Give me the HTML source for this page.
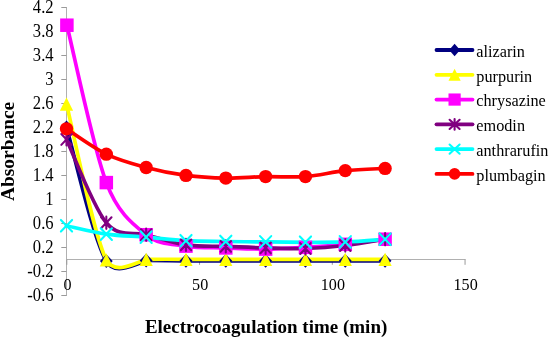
<!DOCTYPE html><html><head><meta charset="utf-8"><style>html,body{margin:0;padding:0;background:#fff}svg{display:block;will-change:transform;transform:translateZ(0)}text{font-family:"Liberation Serif",serif;fill:#000}</style></head><body>
<svg width="550" height="337" viewBox="0 0 550 337">
<rect width="550" height="337" fill="#fff"/>
<g stroke="#b0b0b0" stroke-width="1" fill="none">
<path d="M66.50,7.00 V296.00"/>
<path d="M66.00,259.5 H465.65"/>
</g>
<g stroke="#9a9a9a" stroke-width="1" fill="none">
<path d="M61.30,7.50 H66.50"/>
<path d="M61.30,31.50 H66.50"/>
<path d="M61.30,55.50 H66.50"/>
<path d="M61.30,79.50 H66.50"/>
<path d="M61.30,103.50 H66.50"/>
<path d="M61.30,127.50 H66.50"/>
<path d="M61.30,151.50 H66.50"/>
<path d="M61.30,175.50 H66.50"/>
<path d="M61.30,199.50 H66.50"/>
<path d="M61.30,223.50 H66.50"/>
<path d="M61.30,247.50 H66.50"/>
<path d="M61.30,271.50 H66.50"/>
<path d="M61.30,295.50 H66.50"/>
<path d="M66.80,259.5 V264.8"/>
<path d="M199.55,259.5 V264.8"/>
<path d="M332.30,259.5 V264.8"/>
<path d="M465.05,259.5 V264.8"/>
</g>
<text transform="translate(53.6,12.94) scale(1,1.085)" font-size="16.6" text-anchor="end">4.2</text>
<text transform="translate(53.6,36.90) scale(1,1.085)" font-size="16.6" text-anchor="end">3.8</text>
<text transform="translate(53.6,60.87) scale(1,1.085)" font-size="16.6" text-anchor="end">3.4</text>
<text transform="translate(53.6,84.84) scale(1,1.085)" font-size="16.6" text-anchor="end">3</text>
<text transform="translate(53.6,108.81) scale(1,1.085)" font-size="16.6" text-anchor="end">2.6</text>
<text transform="translate(53.6,132.78) scale(1,1.085)" font-size="16.6" text-anchor="end">2.2</text>
<text transform="translate(53.6,156.74) scale(1,1.085)" font-size="16.6" text-anchor="end">1.8</text>
<text transform="translate(53.6,180.71) scale(1,1.085)" font-size="16.6" text-anchor="end">1.4</text>
<text transform="translate(53.6,204.68) scale(1,1.085)" font-size="16.6" text-anchor="end">1</text>
<text transform="translate(53.6,228.65) scale(1,1.085)" font-size="16.6" text-anchor="end">0.6</text>
<text transform="translate(53.6,252.62) scale(1,1.085)" font-size="16.6" text-anchor="end">0.2</text>
<text transform="translate(53.6,276.58) scale(1,1.085)" font-size="16.6" text-anchor="end">-0.2</text>
<text transform="translate(53.6,300.55) scale(1,1.085)" font-size="16.6" text-anchor="end">-0.6</text>
<text transform="translate(67.40,290.3) scale(1,1.09)" font-size="16.1" text-anchor="middle">0</text>
<text transform="translate(200.15,290.3) scale(1,1.09)" font-size="16.1" text-anchor="middle">50</text>
<text transform="translate(332.90,290.3) scale(1,1.09)" font-size="16.1" text-anchor="middle">100</text>
<text transform="translate(465.65,290.3) scale(1,1.09)" font-size="16.1" text-anchor="middle">150</text>
<text x="266.1" y="332.7" font-size="19" font-weight="bold" text-anchor="middle">Electrocoagulation time (min)</text>
<text transform="translate(14.1,151.4) rotate(-90)" font-size="19.4" font-weight="bold" text-anchor="middle">Absorbance</text>
<path d="M66.50,127.48 C73.14,149.75 93.05,238.93 106.32,261.10 C113.40,273.70 127.00,268.40 146.15,260.50 C159.42,260.45 172.70,260.75 185.97,260.80 C199.25,260.85 212.52,260.80 225.80,260.80 C239.07,260.80 252.35,260.80 265.62,260.80 C278.90,260.80 292.18,260.80 305.45,260.80 C318.72,260.80 332.00,260.80 345.27,260.80 C358.55,260.80 378.46,260.80 385.10,260.80" stroke="#000080" stroke-width="3.7" fill="none" stroke-linecap="round" stroke-linejoin="round"/>
<path d="M66.50,104.11 C73.14,130.07 93.05,234.03 106.32,259.90 C113.50,272.70 127.00,267.60 146.15,259.30 C159.42,259.20 172.70,259.30 185.97,259.30 C199.25,259.30 212.52,259.30 225.80,259.30 C239.07,259.30 252.35,259.30 265.62,259.30 C278.90,259.30 292.18,259.30 305.45,259.30 C318.72,259.30 332.00,259.30 345.27,259.30 C358.55,259.30 378.46,259.30 385.10,259.30" stroke="#ffff00" stroke-width="3.7" fill="none" stroke-linecap="round" stroke-linejoin="round"/>
<path d="M66.90,25.21 C73.47,51.44 93.12,147.68 106.32,182.60 C117.93,213.28 132.87,224.15 146.15,234.73 C159.42,245.32 172.70,243.92 185.97,246.12 C199.25,248.31 212.52,247.42 225.80,247.92 C239.07,248.41 252.35,249.21 265.62,249.11 C278.90,249.01 292.18,248.11 305.45,247.32 C318.72,246.52 332.00,245.67 345.27,244.32 C358.55,242.97 378.46,240.08 385.10,239.23" stroke="#ff00ff" stroke-width="3.7" fill="none" stroke-linecap="round" stroke-linejoin="round"/>
<path d="M66.50,139.46 C73.14,153.34 93.05,206.87 106.32,222.75 C119.60,238.63 132.87,231.04 146.15,234.73 C159.42,238.43 172.70,242.97 185.97,244.92 C199.25,246.87 212.52,245.92 225.80,246.42 C239.07,246.92 252.35,247.57 265.62,247.92 C278.90,248.26 292.18,248.91 305.45,248.51 C318.72,248.11 332.00,247.07 345.27,245.52 C358.55,243.97 378.46,240.28 385.10,239.23" stroke="#800080" stroke-width="3.7" fill="none" stroke-linecap="round" stroke-linejoin="round"/>
<path d="M66.50,225.74 C73.14,227.14 93.05,232.24 106.32,234.13 C119.60,236.03 132.87,236.03 146.15,237.13 C159.42,238.23 172.70,240.00 185.97,240.72 C199.25,241.45 212.52,241.30 225.80,241.50 C239.07,241.70 252.35,241.79 265.62,241.92 C278.90,242.05 292.18,242.28 305.45,242.28 C318.72,242.28 332.00,242.43 345.27,241.92 C358.55,241.41 378.46,239.68 385.10,239.23" stroke="#00ffff" stroke-width="3.7" fill="none" stroke-linecap="round" stroke-linejoin="round"/>
<path d="M66.50,128.85 C73.14,133.07 93.05,147.70 106.32,154.14 C119.60,160.58 132.87,163.96 146.15,167.50 C159.42,171.05 172.70,173.64 185.97,175.41 C199.25,177.18 212.52,177.91 225.80,178.11 C239.07,178.31 252.35,176.86 265.62,176.61 C278.90,176.36 292.18,177.61 305.45,176.61 C318.72,175.61 332.00,171.99 345.27,170.62 C358.55,169.25 378.46,168.77 385.10,168.40" stroke="#ff0000" stroke-width="3.7" fill="none" stroke-linecap="round" stroke-linejoin="round"/>
<path d="M66.50,120.58 L72.90,127.48 L66.50,134.38 L60.10,127.48Z" fill="#000080"/>
<path d="M106.32,254.20 L112.72,261.10 L106.32,268.00 L99.92,261.10Z" fill="#000080"/>
<path d="M146.15,253.60 L152.55,260.50 L146.15,267.40 L139.75,260.50Z" fill="#000080"/>
<path d="M185.97,253.90 L192.38,260.80 L185.97,267.70 L179.57,260.80Z" fill="#000080"/>
<path d="M225.80,253.90 L232.20,260.80 L225.80,267.70 L219.40,260.80Z" fill="#000080"/>
<path d="M265.62,253.90 L272.02,260.80 L265.62,267.70 L259.23,260.80Z" fill="#000080"/>
<path d="M305.45,253.90 L311.85,260.80 L305.45,267.70 L299.05,260.80Z" fill="#000080"/>
<path d="M345.27,253.90 L351.67,260.80 L345.27,267.70 L338.88,260.80Z" fill="#000080"/>
<path d="M385.10,253.90 L391.50,260.80 L385.10,267.70 L378.70,260.80Z" fill="#000080"/>
<path d="M66.50,97.51 L73.10,110.71 L59.90,110.71Z" fill="#ffff00"/>
<path d="M106.32,253.30 L112.92,266.50 L99.72,266.50Z" fill="#ffff00"/>
<path d="M146.15,252.70 L152.75,265.90 L139.55,265.90Z" fill="#ffff00"/>
<path d="M185.97,252.70 L192.57,265.90 L179.38,265.90Z" fill="#ffff00"/>
<path d="M225.80,252.70 L232.40,265.90 L219.20,265.90Z" fill="#ffff00"/>
<path d="M265.62,252.70 L272.23,265.90 L259.02,265.90Z" fill="#ffff00"/>
<path d="M305.45,252.70 L312.05,265.90 L298.85,265.90Z" fill="#ffff00"/>
<path d="M345.27,252.70 L351.88,265.90 L338.67,265.90Z" fill="#ffff00"/>
<path d="M385.10,252.70 L391.70,265.90 L378.50,265.90Z" fill="#ffff00"/>
<rect x="60.15" y="18.46" width="13.5" height="13.5" fill="#ff00ff"/>
<rect x="99.57" y="175.85" width="13.5" height="13.5" fill="#ff00ff"/>
<rect x="139.40" y="227.98" width="13.5" height="13.5" fill="#ff00ff"/>
<rect x="179.22" y="239.37" width="13.5" height="13.5" fill="#ff00ff"/>
<rect x="219.05" y="241.17" width="13.5" height="13.5" fill="#ff00ff"/>
<rect x="258.88" y="242.36" width="13.5" height="13.5" fill="#ff00ff"/>
<rect x="298.70" y="240.57" width="13.5" height="13.5" fill="#ff00ff"/>
<rect x="338.52" y="237.57" width="13.5" height="13.5" fill="#ff00ff"/>
<rect x="378.35" y="232.48" width="13.5" height="13.5" fill="#ff00ff"/>
<path d="M61.30,134.06 L71.70,144.86 M71.70,134.06 L61.30,144.86 M66.50,133.36 L66.50,145.56" stroke="#800080" stroke-width="2.1" stroke-linecap="round" fill="none"/>
<path d="M101.12,217.35 L111.52,228.15 M111.52,217.35 L101.12,228.15 M106.32,216.65 L106.32,228.85" stroke="#800080" stroke-width="2.1" stroke-linecap="round" fill="none"/>
<path d="M140.95,229.33 L151.35,240.13 M151.35,229.33 L140.95,240.13 M146.15,228.63 L146.15,240.83" stroke="#800080" stroke-width="2.1" stroke-linecap="round" fill="none"/>
<path d="M180.78,239.52 L191.17,250.32 M191.17,239.52 L180.78,250.32 M185.97,238.82 L185.97,251.02" stroke="#800080" stroke-width="2.1" stroke-linecap="round" fill="none"/>
<path d="M220.60,241.02 L231.00,251.82 M231.00,241.02 L220.60,251.82 M225.80,240.32 L225.80,252.52" stroke="#800080" stroke-width="2.1" stroke-linecap="round" fill="none"/>
<path d="M260.43,242.52 L270.82,253.32 M270.82,242.52 L260.43,253.32 M265.62,241.82 L265.62,254.02" stroke="#800080" stroke-width="2.1" stroke-linecap="round" fill="none"/>
<path d="M300.25,243.11 L310.65,253.91 M310.65,243.11 L300.25,253.91 M305.45,242.41 L305.45,254.61" stroke="#800080" stroke-width="2.1" stroke-linecap="round" fill="none"/>
<path d="M340.07,240.12 L350.47,250.92 M350.47,240.12 L340.07,250.92 M345.27,239.42 L345.27,251.62" stroke="#800080" stroke-width="2.1" stroke-linecap="round" fill="none"/>
<path d="M379.90,233.83 L390.30,244.63 M390.30,233.83 L379.90,244.63 M385.10,233.13 L385.10,245.33" stroke="#800080" stroke-width="2.1" stroke-linecap="round" fill="none"/>
<path d="M60.90,219.94 L72.10,231.54 M72.10,219.94 L60.90,231.54" stroke="#00ffff" stroke-width="2.1" stroke-linecap="round" fill="none"/>
<path d="M100.72,228.33 L111.92,239.93 M111.92,228.33 L100.72,239.93" stroke="#00ffff" stroke-width="2.1" stroke-linecap="round" fill="none"/>
<path d="M140.55,231.33 L151.75,242.93 M151.75,231.33 L140.55,242.93" stroke="#00ffff" stroke-width="2.1" stroke-linecap="round" fill="none"/>
<path d="M180.38,234.92 L191.57,246.52 M191.57,234.92 L180.38,246.52" stroke="#00ffff" stroke-width="2.1" stroke-linecap="round" fill="none"/>
<path d="M220.20,235.70 L231.40,247.30 M231.40,235.70 L220.20,247.30" stroke="#00ffff" stroke-width="2.1" stroke-linecap="round" fill="none"/>
<path d="M260.02,236.12 L271.23,247.72 M271.23,236.12 L260.02,247.72" stroke="#00ffff" stroke-width="2.1" stroke-linecap="round" fill="none"/>
<path d="M299.85,236.48 L311.05,248.08 M311.05,236.48 L299.85,248.08" stroke="#00ffff" stroke-width="2.1" stroke-linecap="round" fill="none"/>
<path d="M339.67,236.12 L350.88,247.72 M350.88,236.12 L339.67,247.72" stroke="#00ffff" stroke-width="2.1" stroke-linecap="round" fill="none"/>
<path d="M379.50,233.43 L390.70,245.03 M390.70,233.43 L379.50,245.03" stroke="#00ffff" stroke-width="2.1" stroke-linecap="round" fill="none"/>
<circle cx="66.50" cy="128.85" r="6.7" fill="#ff0000"/>
<circle cx="106.32" cy="154.14" r="6.7" fill="#ff0000"/>
<circle cx="146.15" cy="167.50" r="6.7" fill="#ff0000"/>
<circle cx="185.97" cy="175.41" r="6.7" fill="#ff0000"/>
<circle cx="225.80" cy="178.11" r="6.7" fill="#ff0000"/>
<circle cx="265.62" cy="176.61" r="6.7" fill="#ff0000"/>
<circle cx="305.45" cy="176.61" r="6.7" fill="#ff0000"/>
<circle cx="345.27" cy="170.62" r="6.7" fill="#ff0000"/>
<circle cx="385.10" cy="168.40" r="6.7" fill="#ff0000"/>
<path d="M436.5,50.00 H472.5" stroke="#000080" stroke-width="3.8" stroke-linecap="round"/>
<path d="M454.60,43.80 L460.10,50.00 L454.60,56.20 L449.10,50.00Z" fill="#000080"/>
<text transform="translate(476.3,56.90) scale(1,1.07)" font-size="16.25">alizarin</text>
<path d="M436.5,74.78 H472.5" stroke="#ffff00" stroke-width="3.8" stroke-linecap="round"/>
<path d="M454.60,68.78 L460.70,80.78 L448.50,80.78Z" fill="#ffff00"/>
<text transform="translate(476.3,81.68) scale(1,1.07)" font-size="16.25">purpurin</text>
<path d="M436.5,99.56 H472.5" stroke="#ff00ff" stroke-width="3.8" stroke-linecap="round"/>
<rect x="448.50" y="93.46" width="12.2" height="12.2" fill="#ff00ff"/>
<text transform="translate(476.3,106.46) scale(1,1.07)" font-size="16.25">chrysazine</text>
<path d="M436.5,124.34 H472.5" stroke="#800080" stroke-width="3.8" stroke-linecap="round"/>
<path d="M449.60,119.74 L459.60,128.94 M459.60,119.74 L449.60,128.94 M454.60,119.04 L454.60,129.64" stroke="#800080" stroke-width="2.1" stroke-linecap="round" fill="none"/>
<text transform="translate(476.3,131.24) scale(1,1.07)" font-size="16.25">emodin</text>
<path d="M436.5,149.12 H472.5" stroke="#00ffff" stroke-width="3.8" stroke-linecap="round"/>
<path d="M449.60,144.52 L459.60,153.72 M459.60,144.52 L449.60,153.72" stroke="#00ffff" stroke-width="2.1" stroke-linecap="round" fill="none"/>
<text transform="translate(476.3,156.02) scale(1,1.07)" font-size="16.25">anthrarufin</text>
<path d="M436.5,173.90 H472.5" stroke="#ff0000" stroke-width="3.8" stroke-linecap="round"/>
<circle cx="454.60" cy="173.90" r="5.8" fill="#ff0000"/>
<text transform="translate(476.3,180.80) scale(1,1.07)" font-size="16.25">plumbagin</text>
</svg></body></html>
